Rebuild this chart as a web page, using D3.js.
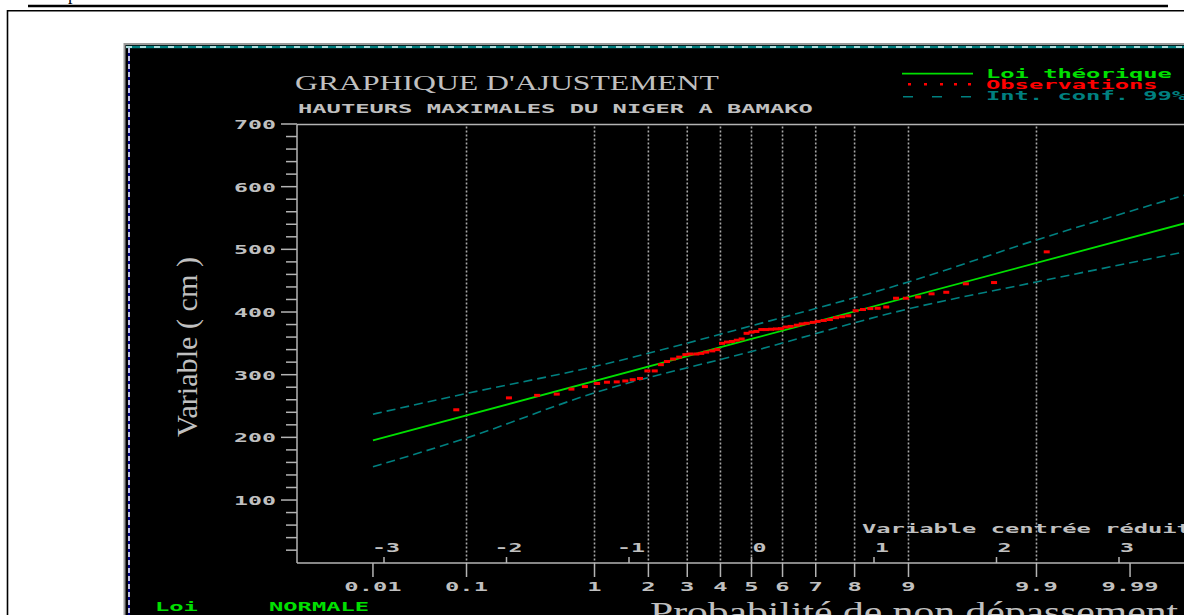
<!DOCTYPE html>
<html><head><meta charset="utf-8">
<script src="https://cdn.jsdelivr.net/npm/d3@7"></script>
<style>html,body{margin:0;padding:0;background:#fff;overflow:hidden}</style>
</head><body><svg id="c" width="1184" height="615"></svg>
<script>
// Graphique d'ajustement : hauteurs maximales du Niger à Bamako, loi normale

// Axe des probabilités de non dépassement (libellés en dixièmes)
const probTicks  = [0.001, 0.01, 0.1, 0.2, 0.3, 0.4, 0.5, 0.6, 0.7, 0.8, 0.9, 0.99, 0.999];
const probLabels = ["0.01", "0.1", "1", "2", "3", "4", "5", "6", "7", "8", "9", "9.9", "9.99"];
const gridProbs  = [0.01, 0.1, 0.2, 0.3, 0.4, 0.5, 0.6, 0.7, 0.8, 0.9, 0.99];
// Variable centrée réduite
const zTicks  = [-3, -2, -1, 0, 1, 2, 3];
// Axe des hauteurs (cm)
const yTicks  = [100, 200, 300, 400, 500, 600, 700];
const yMinor  = d3.range(20, 701, 20);

// Loi théorique (droite d'ajustement)
const theoProb  = [0.001, 0.5, 0.9999];
const theoValue = [195, 357, 551];
// Intervalle de confiance à 99 %
const ciProb  = [0.001, 0.01, 0.1, 0.5, 0.9, 0.99, 0.9999];
const ciUpper = [237, 270, 313, 378, 448, 515, 597];
const ciLower = [153, 199, 271, 337, 405, 448, 503];
// Observations : variable réduite et hauteur (cm)
const obsZ = [-2.41,-1.98,-1.75,-1.59,-1.47,-1.36,-1.26,-1.18,-1.10,-1.03,-0.97,-0.91,-0.85,-0.79,-0.74,-0.69,
  -0.64,-0.59,-0.54,-0.50,-0.45,-0.41,-0.37,-0.32,-0.28,-0.24,-0.20,-0.16,-0.12,-0.08,-0.04,0,
  0.04,0.08,0.12,0.16,0.20,0.24,0.28,0.32,0.37,0.41,0.45,0.50,0.54,0.59,0.64,0.69,
  0.74,0.79,0.85,0.91,0.97,1.03,1.10,1.18,1.26,1.36,1.47,1.59,1.75,1.98,2.41];
const obsValue = [244,263,267,269,277,281,286,288,288.5,290,292,294,306,306,316,321,
  325,328,332,333,333,334,336,338,340,350,352,353,355,357,366,368,
  369,372,372,372.5,373,373.5,376,377,379,381,382,383.5,385,386.5,388,391,
  392.5,394,402,404,405.5,406,408,422,422,424,429,431.5,445,447,496];

// Quantile de la loi normale centrée réduite (Acklam)
function qnorm(p) {
  const a = [-39.69683028665376, 220.9460984245205, -275.9285104469687, 138.3577518672690, -30.66479806614716, 2.506628277459239];
  const b = [-54.47609879822406, 161.5858368580409, -155.6989798598866, 66.80131188771972, -13.28068155288572];
  const c = [-0.007784894002430293, -0.3223964580411365, -2.400758277161838, -2.549732539343734, 4.374664141464968, 2.938163982698783];
  const d = [0.007784695709041462, 0.3224671290700398, 2.445134137142996, 3.754408661907416];
  const pl = 0.02425;
  let q, r;
  if (p < pl) {
    q = Math.sqrt(-2 * Math.log(p));
    return (((((c[0]*q+c[1])*q+c[2])*q+c[3])*q+c[4])*q+c[5]) / ((((d[0]*q+d[1])*q+d[2])*q+d[3])*q+1);
  }
  if (p <= 1 - pl) {
    q = p - 0.5; r = q * q;
    return (((((a[0]*r+a[1])*r+a[2])*r+a[3])*r+a[4])*r+a[5])*q / (((((b[0]*r+b[1])*r+b[2])*r+b[3])*r+b[4])*r+1);
  }
  q = Math.sqrt(-2 * Math.log(1 - p));
  return -(((((c[0]*q+c[1])*q+c[2])*q+c[3])*q+c[4])*q+c[5]) / ((((d[0]*q+d[1])*q+d[2])*q+d[3])*q+1);
}

const svg = d3.select("#c");
const GRAY = "#c0c0c0", AXIS = "#b4b4b4", GREEN = "#00e000", RED = "#ff0000", TEAL = "#008080";
const MONO = "'DejaVu Sans Mono', monospace";
const SERIF = "'Liberation Serif', 'DejaVu Serif', serif";

// Échelles
const x = d3.scaleLinear().domain([-3.72, 3.72]).range([295.8, 1207.2]);
const xp = p => x(qnorm(p));
const y = d3.scaleLinear().domain([0, 700]).range([562.7, 124]);
const X0 = 297, X1 = 1184, Y0 = 563, Y1 = 124.5;

// Texte à chasse fixe élargie
function mono(g, str, px, py, opt = {}) {
  const adv = opt.adv || 14.3;
  return g.append("text")
    .attr("x", px).attr("y", py)
    .attr("font-family", MONO).attr("font-weight", "bold")
    .attr("font-size", opt.size || 13)
    .attr("fill", opt.fill || GRAY)
    .attr("text-anchor", opt.anchor || "start")
    .attr("textLength", str.length * adv)
    .attr("lengthAdjust", "spacingAndGlyphs")
    .text(str);
}

// Page : filet supérieur et cadre
svg.append("text").attr("x", 68).attr("y", -0.5).attr("font-family", SERIF).attr("font-size", 18).attr("fill", "#000").text("p");
svg.append("line").attr("x1", 28).attr("x2", 1168).attr("y1", 6).attr("y2", 6).attr("stroke", "#000").attr("stroke-width", 2.5);
svg.append("path").attr("d", "M7.5,615 V10.8 H1184").attr("fill", "none").attr("stroke", "#000").attr("stroke-width", 1.6);

// Fenêtre de l'écran
svg.append("rect").attr("x", 124).attr("y", 43).attr("width", 1060).attr("height", 572).attr("fill", "#000");
svg.append("path").attr("d", "M124.5,615 V44 H1184").attr("fill", "none").attr("stroke", "#9a9a9a").attr("stroke-width", 2);
svg.append("line").attr("x1", 126).attr("x2", 1184).attr("y1", 47).attr("y2", 47).attr("stroke", TEAL).attr("stroke-width", 2.5);
svg.append("line").attr("x1", 126).attr("x2", 1184).attr("y1", 47).attr("y2", 47).attr("stroke", "#e8ffff").attr("stroke-width", 1.5).attr("stroke-dasharray", "6,8");
svg.append("line").attr("x1", 129).attr("x2", 129).attr("y1", 48).attr("y2", 615).attr("stroke", "#000080").attr("stroke-width", 2);
svg.append("line").attr("x1", 129).attr("x2", 129).attr("y1", 48).attr("y2", 615).attr("stroke", "#ffffff").attr("stroke-width", 1.5).attr("stroke-dasharray", "5,3");

// Grille verticale pointillée
svg.append("g").selectAll("line").data(gridProbs).join("line")
  .attr("x1", d => xp(d)).attr("x2", d => xp(d))
  .attr("y1", Y1 + 2).attr("y2", Y0)
  .attr("stroke", "#a8a8a8").attr("stroke-width", 1.6).attr("stroke-dasharray", "2,2");

// Axe vertical
const ya = svg.append("g");
ya.append("line").attr("x1", X0).attr("x2", X0).attr("y1", Y1).attr("y2", Y0).attr("stroke", AXIS).attr("stroke-width", 1.5);
ya.append("line").attr("x1", X0).attr("x2", X1).attr("y1", Y1).attr("y2", Y1).attr("stroke", AXIS).attr("stroke-width", 1.5);
ya.selectAll("line.minor").data(yMinor).join("line").attr("class", "minor")
  .attr("x1", d => yTicks.includes(d) ? 281 : 286).attr("x2", X0)
  .attr("y1", d => y(d)).attr("y2", d => y(d))
  .attr("stroke", AXIS).attr("stroke-width", 1.5);
yTicks.forEach(v => mono(ya, String(v), 276, y(v) + 5, {anchor: "end", adv: 14}));

// Axe horizontal
const xa = svg.append("g");
xa.append("line").attr("x1", X0).attr("x2", X1).attr("y1", Y0).attr("y2", Y0).attr("stroke", AXIS).attr("stroke-width", 1.5);
xa.selectAll("line.pt").data(probTicks).join("line").attr("class", "pt")
  .attr("x1", d => xp(d)).attr("x2", d => xp(d)).attr("y1", Y0).attr("y2", Y0 + 14)
  .attr("stroke", AXIS).attr("stroke-width", 1.5);
probTicks.forEach((p, i) => mono(xa, probLabels[i], xp(p), 590.5, {anchor: "middle"}));
xa.selectAll("line.zt").data(zTicks).join("line").attr("class", "zt")
  .attr("x1", d => x(d)).attr("x2", d => x(d)).attr("y1", Y0 - 6).attr("y2", Y0)
  .attr("stroke", AXIS).attr("stroke-width", 1.5);
zTicks.forEach(z => {
  const s = z < 0 ? "-" + Math.abs(z) : String(z);
  mono(xa, s, x(z) + 1 - (z < 0 ? 13 : 0), 551.5, {adv: 14});
});
mono(xa, "Variable centrée réduite", 862, 532.5);

// Intervalle de confiance
const lineP = d3.line().x(d => xp(d[0])).y(d => y(d[1])).curve(d3.curveMonotoneX);
[ciUpper, ciLower].forEach(arr => {
  svg.append("path").datum(ciProb.map((p, i) => [p, arr[i]])).attr("d", lineP)
    .attr("fill", "none").attr("stroke", TEAL).attr("stroke-width", 1.6).attr("stroke-dasharray", "9,5");
});
// Loi théorique
svg.append("path").datum(theoProb.map((p, i) => [p, theoValue[i]])).attr("d", d3.line().x(d => xp(d[0])).y(d => y(d[1])))
  .attr("fill", "none").attr("stroke", GREEN).attr("stroke-width", 1.8);
// Observations
svg.append("g").selectAll("rect").data(obsZ.map((z, i) => [z, obsValue[i]])).join("rect")
  .attr("x", d => x(d[0]) - 3).attr("y", d => y(d[1]) - 1.5)
  .attr("width", 6).attr("height", 3).attr("fill", RED);

// Titres
svg.append("text").attr("x", 295).attr("y", 90).attr("font-family", SERIF).attr("font-size", 21)
  .attr("fill", GRAY).attr("textLength", 424).attr("lengthAdjust", "spacingAndGlyphs")
  .text("GRAPHIQUE D'AJUSTEMENT");
mono(svg, "HAUTEURS MAXIMALES DU NIGER A BAMAKO", 298, 113, {size: 12});

// Légende
const lg = svg.append("g");
lg.append("line").attr("x1", 902).attr("x2", 973).attr("y1", 73.7).attr("y2", 73.7).attr("stroke", GREEN).attr("stroke-width", 1.8);
lg.selectAll("rect").data([909, 925, 941, 955, 969]).join("rect")
  .attr("x", d => d - 1).attr("y", 83).attr("width", 3).attr("height", 2.5).attr("fill", RED);
lg.append("line").attr("x1", 903).attr("x2", 973).attr("y1", 96.7).attr("y2", 96.7)
  .attr("stroke", TEAL).attr("stroke-width", 1.6).attr("stroke-dasharray", "10,19");
mono(lg, "Loi théorique", 986, 77.5, {fill: GREEN, size: 12});
mono(lg, "Observations", 986, 88.5, {fill: RED, size: 12});
mono(lg, "Int. conf. 99%", 986, 100, {fill: TEAL, size: 12});

// Intitulés des axes
svg.append("text").attr("transform", "translate(197,437) rotate(-90)")
  .attr("font-family", SERIF).attr("font-size", 30).attr("fill", GRAY)
  .attr("textLength", 180).attr("lengthAdjust", "spacingAndGlyphs")
  .text("Variable ( cm )");
svg.append("text").attr("x", 650).attr("y", 622).attr("font-family", SERIF).attr("font-size", 30).attr("fill", GRAY)
  .attr("textLength", 528).attr("lengthAdjust", "spacingAndGlyphs")
  .text("Probabilité de non dépassement");

// Loi utilisée
mono(svg, "Loi", 155, 611, {fill: GREEN});
mono(svg, "NORMALE", 269, 611, {fill: GREEN});
</script></body></html>
